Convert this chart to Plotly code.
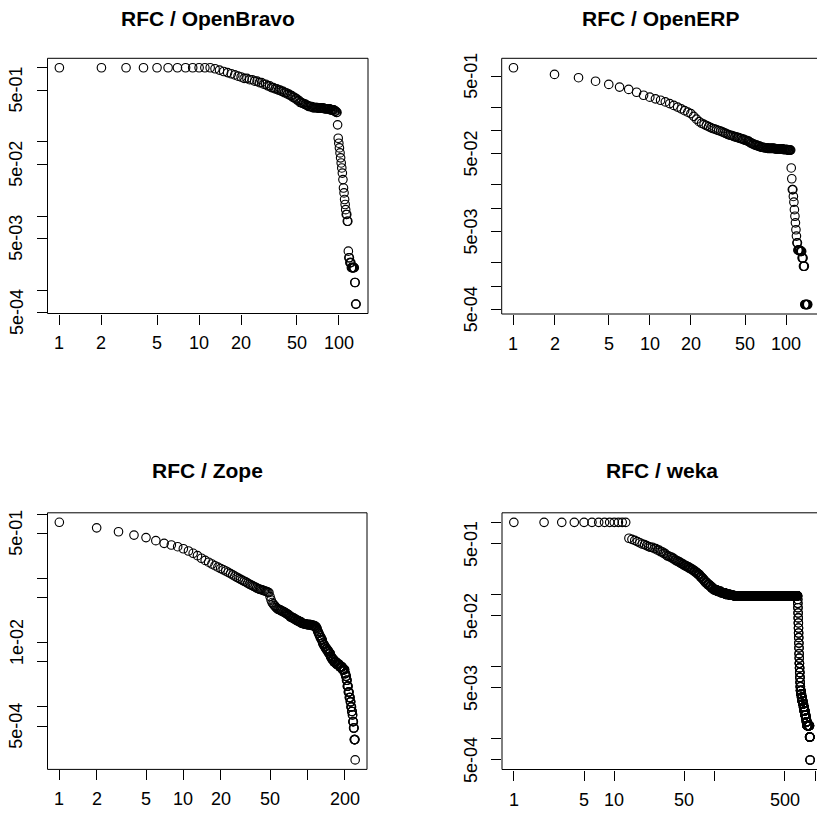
import numpy as np
import plotly.graph_objects as go

# ---------------- data (rank-ordered values) ----------------
# each value is repeated "count" times (ties in the rank-frequency data)
openbravo_vals = [1.0, 0.97, 0.93, 0.89, 0.86, 0.83, 0.80, 0.77, 0.75,
                  0.72, 0.69, 0.66, 0.63, 0.60, 0.57,
                  0.54, 0.52, 0.50, 0.48, 0.46,
                  0.44, 0.42, 0.40, 0.38, 0.36,
                  0.34, 0.33, 0.32, 0.31,
                  0.30, 0.29, 0.285, 0.28, 0.27, 0.26, 0.25,
                  0.170, 0.112, 0.096, 0.083, 0.071, 0.061, 0.052, 0.0445, 0.038, 0.031,
                  0.0239, 0.0205, 0.0167, 0.0143, 0.0122, 0.0105, 0.0085,
                  0.00336, 0.00274, 0.00235, 0.00201, 0.00127, 0.00065]
openbravo_cnts = [12, 1, 1, 1, 1, 1, 1, 1, 1,
                  2, 2, 2, 2, 2, 2,
                  2, 2, 2, 2, 2,
                  2, 2, 2, 2, 2,
                  2, 2, 2, 2,
                  4, 6, 8, 8, 6, 3, 2,
                  1, 1, 1, 1, 1, 1, 1, 1, 1, 1,
                  1, 1, 1, 1, 1, 2, 2,
                  1, 2, 3, 7, 2, 2]

openerp_vals = [0.64, 0.526, 0.477, 0.43, 0.391, 0.361, 0.337, 0.31, 0.284, 0.268,
                0.255, 0.245, 0.233, 0.222, 0.21, 0.20, 0.19, 0.18, 0.172, 0.165,
                0.152, 0.14, 0.13, 0.124, 0.12, 0.116,
                0.112, 0.109, 0.106, 0.104, 0.102,
                0.1, 0.098, 0.096, 0.094, 0.092, 0.09, 0.088, 0.087, 0.086, 0.085,
                0.083, 0.081, 0.079, 0.077, 0.075, 0.073, 0.071,
                0.069, 0.067, 0.065, 0.063, 0.061, 0.060,
                0.059, 0.058, 0.057, 0.056,
                0.033, 0.024, 0.0174, 0.0142, 0.012, 0.0096, 0.0079, 0.0065, 0.0053,
                0.0044, 0.0036, 0.0029, 0.0028, 0.0023, 0.0018, 0.00058]
openerp_cnts = [1] * 41 + [2, 2, 2, 2, 2, 2, 1,
                           2, 2, 3, 3, 4, 4,
                           10, 12, 8, 6,
                           1, 1, 2, 1, 1, 1, 1, 1, 1,
                           1, 2, 5, 4, 3, 3, 8]

zope_vals = [0.743, 0.61, 0.53, 0.47, 0.43, 0.385, 0.35, 0.33, 0.31, 0.288,
             0.266, 0.245, 0.225, 0.205, 0.19, 0.178, 0.167, 0.157, 0.149, 0.142,
             0.136, 0.13, 0.124, 0.118, 0.113, 0.108, 0.104, 0.1, 0.096, 0.093,
             0.09, 0.087, 0.084, 0.081, 0.079, 0.077, 0.075, 0.073, 0.071, 0.069,
             0.068, 0.067, 0.066, 0.065, 0.064, 0.063, 0.062, 0.061, 0.06, 0.052,
             0.046, 0.042, 0.04, 0.038, 0.037, 0.035, 0.034,
             0.033, 0.032, 0.031, 0.030, 0.029, 0.028, 0.027, 0.026,
             0.025, 0.024, 0.023, 0.022, 0.021, 0.020,
             0.0195, 0.019, 0.0185, 0.018, 0.0175,
             0.0165, 0.015, 0.014, 0.013, 0.012, 0.011, 0.0098,
             0.0092, 0.0086, 0.008, 0.0074, 0.0068, 0.006,
             0.0055, 0.005, 0.0046, 0.0042, 0.0038,
             0.0033, 0.003, 0.0026, 0.0021, 0.0017, 0.0014, 0.0012, 0.001,
             0.00085, 0.00075, 0.00059, 0.00047, 0.00031, 0.00015]
zope_cnts = [1] * 57 + [2, 2, 2, 2, 2, 2, 2, 1,
                        3, 3, 3, 4, 4, 3,
                        6, 8, 6, 4, 2,
                        2, 2, 2, 2, 3, 3, 2,
                        3, 3, 4, 4, 5, 4,
                        6, 8, 10, 10, 9,
                        3, 3, 3, 4, 4, 4, 3, 3,
                        3, 2, 3, 3, 4, 1]

weka_vals = [1.0, 0.6, 0.58, 0.56, 0.54, 0.52, 0.5, 0.49, 0.475, 0.46,
             0.45, 0.43, 0.41, 0.39, 0.37, 0.35,
             0.34, 0.33, 0.315, 0.30, 0.29, 0.28, 0.27, 0.26,
             0.25, 0.24, 0.23, 0.22, 0.21, 0.2, 0.19, 0.185,
             0.175, 0.165, 0.155, 0.145, 0.137, 0.13, 0.122,
             0.115, 0.11, 0.105, 0.1, 0.097,
             0.095,
             0.085, 0.075, 0.065, 0.055, 0.047, 0.04, 0.034, 0.029, 0.025, 0.021,
             0.018, 0.015, 0.013, 0.011, 0.0095, 0.0082, 0.007, 0.006, 0.0052,
             0.0046, 0.0041, 0.0037, 0.0033, 0.003, 0.0027, 0.0024, 0.0021, 0.0019, 0.0017,
             0.0015, 0.00104, 0.0005]
weka_cnts = [13, 1, 1, 1, 1, 1, 1, 1, 1, 1,
             2, 2, 2, 2, 2, 1,
             2, 2, 2, 2, 2, 2, 2, 2,
             3, 3, 3, 3, 3, 3, 3, 1,
             3, 3, 3, 4, 4, 4, 5,
             8, 10, 12, 14, 13,
             516,
             2, 2, 2, 2, 2, 2, 2, 2, 2, 2,
             2, 2, 2, 3, 3, 3, 3, 3, 3,
             8, 10, 10, 12, 12, 12, 14, 14, 12, 12,
             50, 10, 3]

titles = ["RFC / OpenBravo", "RFC / OpenERP", "RFC / Zope", "RFC / weka"]

# tick positions and labels per panel ("" = tick without label)
x_tickvals = [[1, 2, 5, 10, 20, 50, 100],
              [1, 2, 5, 10, 20, 50, 100],
              [1, 2, 5, 10, 20, 50, 100, 200],
              [1, 5, 10, 50, 100, 500, 1000]]
x_ticktext = [["1", "2", "5", "10", "20", "50", "100"],
              ["1", "2", "5", "10", "20", "50", "100"],
              ["1", "2", "5", "10", "20", "50", "", "200"],
              ["1", "5", "10", "50", "", "500", ""]]
y_tickvals = [[1, 0.5, 0.1, 0.05, 0.01, 0.005, 0.001, 0.0005],
              [0.5, 0.2, 0.1, 0.05, 0.02, 0.01, 0.005, 0.002, 0.001, 0.0005],
              [1, 0.5, 0.1, 0.05, 0.01, 0.005, 0.001, 0.0005],
              [1, 0.5, 0.1, 0.05, 0.01, 0.005, 0.001, 0.0005]]
y_ticktext = [["", "5e-01", "", "5e-02", "", "5e-03", "", "5e-04"],
              ["5e-01", "", "", "5e-02", "", "", "5e-03", "", "", "5e-04"],
              ["", "5e-01", "", "", "1e-02", "", "", "5e-04"],
              ["", "5e-01", "", "5e-02", "", "5e-03", "", "5e-04"]]

series = [(openbravo_vals, openbravo_cnts), (openerp_vals, openerp_cnts),
          (zope_vals, zope_cnts), (weka_vals, weka_cnts)]

# ---------------- layout (pixel boxes of the four panels) ----------------
W, H = 817, 813
boxes = [(47.5, 368.0, 58.3, 313.5),
         (501.7, 819.5, 58.3, 314.0),
         (47.5, 367.0, 512.8, 769.4),
         (502.0, 822.0, 512.8, 769.5)]
title_y = [18, 18, 470, 470]
XLAB_GAP = 30   # px from box bottom to x-label centre
YLAB_GAP = 31   # px from box left to y-label centre

FONT = "Liberation Sans, Arial, Helvetica, sans-serif"
TICK_FONT = dict(family=FONT, size=18, color="black")


def r_range(lo, hi):
    a, b = np.log10(lo), np.log10(hi)
    d = 0.04 * (b - a)
    return a - d, b + d


fig = go.Figure()
layout = dict(width=W, height=H, margin=dict(l=0, r=0, t=0, b=0), autosize=False,
              paper_bgcolor="white", plot_bgcolor="white", showlegend=False,
              shapes=[], annotations=[])

for i, ((vals, cnts), (L, R, T, B)) in enumerate(zip(series, boxes)):
    y = np.repeat(np.array(vals, dtype=float), cnts)
    x = np.arange(1, len(y) + 1)
    k = "" if i == 0 else str(i + 1)
    fig.add_trace(go.Scatter(x=x, y=y, mode="markers", xaxis="x" + k, yaxis="y" + k,
                             marker=dict(symbol="circle-open", size=8.5, color="black",
                                         line=dict(width=1.15, color="black")),
                             hoverinfo="x+y"))
    xr0, xr1 = r_range(1, len(y))
    yr0, yr1 = r_range(y.min(), y.max())
    Rv = min(R, W)
    xr1v = xr0 + (xr1 - xr0) * (Rv - L) / (R - L)
    axis_common = dict(type="log", showgrid=False, zeroline=False, showline=False,
                       ticks="outside", ticklen=10, tickwidth=1, tickcolor="black",
                       showticklabels=False, tickmode="array")
    layout["xaxis" + k] = dict(axis_common, domain=[L / W, Rv / W], range=[xr0, xr1v],
                               anchor="y" + k, tickvals=x_tickvals[i])
    layout["yaxis" + k] = dict(axis_common, domain=[1 - B / H, 1 - T / H], range=[yr0, yr1],
                               anchor="x" + k, tickvals=y_tickvals[i])
    # plot box
    layout["shapes"].append(dict(type="rect", xref="paper", yref="paper",
                                 x0=L / W, x1=R / W, y0=1 - B / H, y1=1 - T / H,
                                 line=dict(color="black", width=1), layer="above"))
    # tick labels, placed on the axis scales
    for v, t in zip(x_tickvals[i], x_ticktext[i]):
        if t:
            layout["annotations"].append(dict(
                text=t, xref="x" + k, x=np.log10(v), yref="paper",
                y=1 - (B + XLAB_GAP) / H, xanchor="center", yanchor="middle",
                showarrow=False, font=TICK_FONT))
    for v, t in zip(y_tickvals[i], y_ticktext[i]):
        if t:
            layout["annotations"].append(dict(
                text=t, yref="y" + k, y=np.log10(v), xref="paper",
                x=(L - YLAB_GAP) / W, xanchor="center", yanchor="middle",
                textangle=-90, showarrow=False, font=TICK_FONT))
    # panel title
    layout["annotations"].append(dict(text=titles[i], xref="paper", yref="paper",
                                      x=(L + R) / 2 / W, y=1 - title_y[i] / H,
                                      xanchor="center", yanchor="middle", showarrow=False,
                                      font=dict(family=FONT, size=21, color="black",
                                                weight="bold")))

fig.update_layout(**layout)
fig.write_html("out.html")
